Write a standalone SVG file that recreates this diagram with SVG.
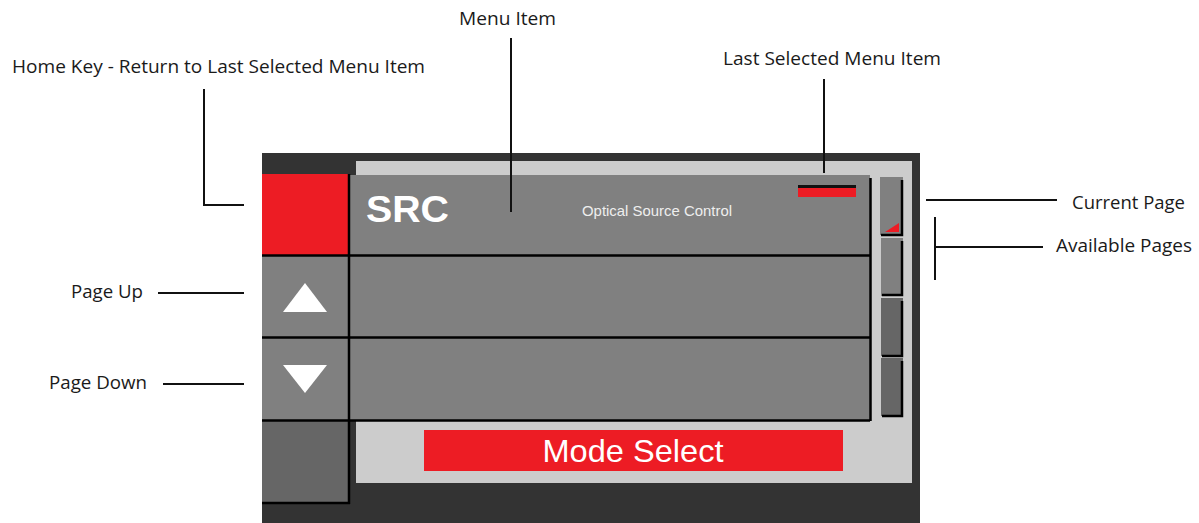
<svg xmlns="http://www.w3.org/2000/svg" width="1199" height="523" viewBox="0 0 1199 523">
  <style>
    .lbl { font-family: "Open Sans", "Noto Sans", sans-serif; font-size: 18px; fill: #1a1a1a; }
    .lead { stroke: #111; stroke-width: 2; fill: none; }
    .edge { stroke: #000; stroke-width: 2.5; fill: none; }
    .key { fill: #808080; }
    .keyDark { fill: #666; }
    .red { fill: #ed1c24; }
  </style>
  <rect width="1199" height="523" fill="#fff"/>

  <!-- housing -->
  <g id="housing">
    <rect x="262" y="153" width="658" height="370" fill="#333"/>
    <rect x="356" y="161" width="556" height="322" fill="#ccc"/>
  </g>

  <!-- left key column -->
  <g id="home-key">
    <rect class="red" x="262" y="174" width="86" height="81"/>
  </g>
  <g id="page-up-key">
    <rect class="key" x="262" y="256" width="86" height="81"/>
    <polygon points="283,312 327,312 305,283" fill="#fff"/>
  </g>
  <g id="page-down-key">
    <rect class="key" x="262" y="338" width="86" height="82"/>
    <polygon points="283,365 327,365 305,393" fill="#fff"/>
  </g>
  <g id="blank-key">
    <rect class="keyDark" x="262" y="421" width="86" height="81"/>
  </g>

  <!-- menu rows -->
  <g id="menu-row-1">
    <rect class="key" x="350" y="175" width="520" height="80"/>
    <text x="366" y="222" font-family="Liberation Sans, Arial, sans-serif" font-weight="bold" font-size="37" fill="#fff" textLength="83" lengthAdjust="spacingAndGlyphs">SRC</text>
    <text x="582" y="216" font-family="Liberation Sans, Arial, sans-serif" font-size="14.5" fill="#eee" textLength="150" lengthAdjust="spacingAndGlyphs">Optical Source Control</text>
    <rect x="798" y="185" width="58" height="3" fill="#111"/>
    <rect class="red" x="798" y="188" width="58" height="9"/>
  </g>
  <g id="menu-row-2">
    <rect class="key" x="350" y="256" width="520" height="81"/>
  </g>
  <g id="menu-row-3">
    <rect class="key" x="350" y="338" width="520" height="82"/>
  </g>

  <!-- page indicator tabs -->
  <g id="page-tab-1">
    <rect class="key" x="880" y="177" width="23" height="58"/>
    <polyline class="edge" points="902,180 902,235 881,235"/>
    <polygon class="red" points="885,232 899,223 899,232"/>
  </g>
  <g id="page-tab-2">
    <rect class="key" x="881" y="238" width="22" height="58"/>
    <polyline class="edge" points="902,241 902,295 882,295"/>
  </g>
  <g id="page-tab-3">
    <rect class="keyDark" x="881" y="298" width="22" height="58"/>
    <polyline class="edge" points="902,301 902,356 882,356"/>
  </g>
  <g id="page-tab-4">
    <rect class="keyDark" x="881" y="358" width="22" height="58"/>
    <polyline class="edge" points="902,361 902,416 882,416"/>
  </g>

  <!-- mode select bar -->
  <g id="mode-select">
    <rect class="red" x="424" y="430" width="419" height="41"/>
    <text x="633" y="462" text-anchor="middle" font-family="Liberation Sans, Arial, sans-serif" font-size="32" fill="#fff" textLength="181" lengthAdjust="spacingAndGlyphs">Mode Select</text>
  </g>

  <!-- dividing lines between keys and rows -->
  <g id="dividers">
    <line class="edge" x1="349" y1="174" x2="349" y2="504"/>
    <line class="edge" x1="262" y1="255.5" x2="870" y2="255.5"/>
    <line class="edge" x1="262" y1="337.5" x2="870" y2="337.5"/>
    <line class="edge" x1="262" y1="420.5" x2="870" y2="420.5"/>
    <line class="edge" x1="262" y1="503" x2="350" y2="503"/>
    <line class="edge" x1="870.5" y1="178" x2="870.5" y2="421"/>
  </g>

  <!-- callout lines -->
  <g id="connectors">
    <line class="lead" x1="511" y1="38" x2="511" y2="212"/>
    <polyline class="lead" points="204,89 204,205 244,205"/>
    <line class="lead" x1="824" y1="79" x2="824" y2="173"/>
    <line class="lead" x1="926" y1="200" x2="1057" y2="200"/>
    <line class="lead" x1="935" y1="217" x2="935" y2="280"/>
    <line class="lead" x1="935" y1="247" x2="1043" y2="247"/>
    <line class="lead" x1="158" y1="293" x2="244" y2="293"/>
    <line class="lead" x1="163" y1="384" x2="244" y2="384"/>
  </g>

  <!-- callout labels -->
  <g id="labels">
    <text class="lbl" x="459" y="25" textLength="97" lengthAdjust="spacingAndGlyphs">Menu Item</text>
    <text class="lbl" x="12" y="73" textLength="413" lengthAdjust="spacingAndGlyphs">Home Key - Return to Last Selected Menu Item</text>
    <text class="lbl" x="723" y="65" textLength="218" lengthAdjust="spacingAndGlyphs">Last Selected Menu Item</text>
    <text class="lbl" x="1072" y="209" textLength="113" lengthAdjust="spacingAndGlyphs">Current Page</text>
    <text class="lbl" x="1056" y="252" textLength="136" lengthAdjust="spacingAndGlyphs">Available Pages</text>
    <text class="lbl" x="71" y="298" textLength="72" lengthAdjust="spacingAndGlyphs">Page Up</text>
    <text class="lbl" x="49" y="389" textLength="98" lengthAdjust="spacingAndGlyphs">Page Down</text>
  </g>
</svg>
